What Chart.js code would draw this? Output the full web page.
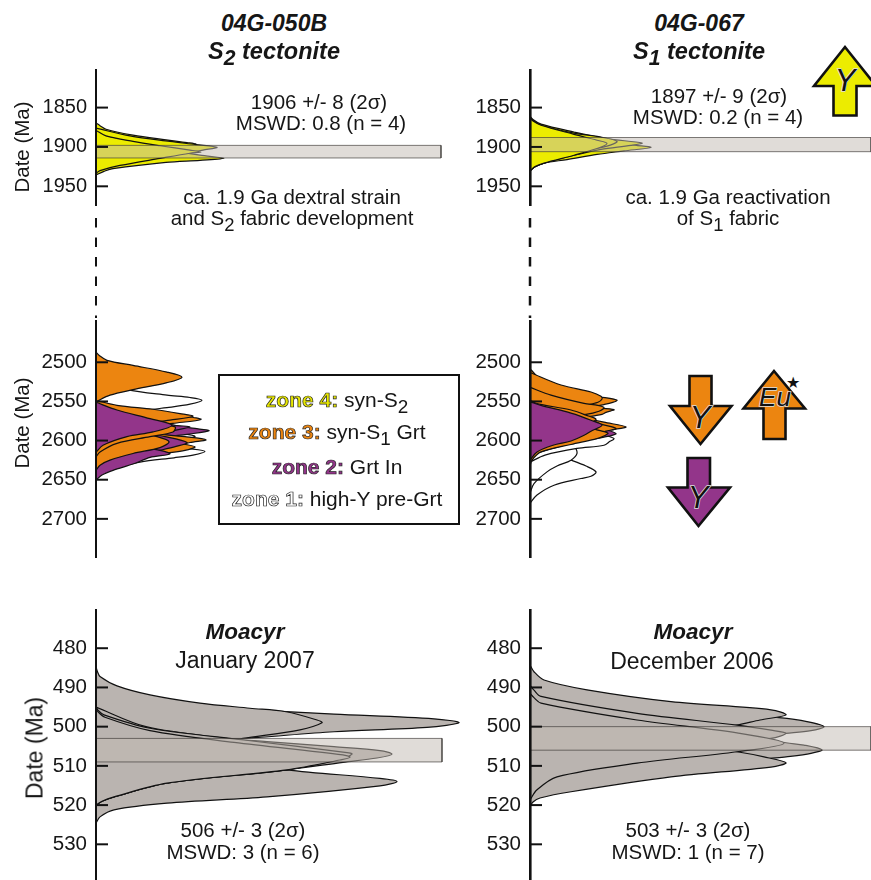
<!DOCTYPE html>
<html>
<head>
<meta charset="utf-8">
<script src="https://cdn.jsdelivr.net/npm/chart.js@4"></script>
<style>
html,body{margin:0;padding:0;background:#fff;}
#page{position:relative;width:871px;height:880px;overflow:hidden;font-family:"Liberation Sans",Arial,sans-serif;color:#161616;}
canvas{position:absolute;}
svg{position:absolute;left:0;top:0;}
.t{position:absolute;transform:translate(-50%,-50%);white-space:nowrap;line-height:1;font-size:20.5px;}
.b{font-weight:bold;font-style:italic;}
.s{font-size:.9em;position:relative;top:.3em;}
.rot{transform:translate(-50%,-50%) rotate(-90deg);}
.z{font-weight:bold;-webkit-text-stroke:.7px #222;}
#box{position:absolute;left:218px;top:374px;width:238px;height:147px;border:2px solid #111;background:#fff;}
</style>
</head>
<body>
<div id="page">
<div id="box"></div>
<svg width="871" height="880">
  <line x1="96" y1="218" x2="96" y2="318" stroke="#111" stroke-width="2" stroke-dasharray="9.5 10"/>
  <line x1="530" y1="218" x2="530" y2="318" stroke="#111" stroke-width="2.5" stroke-dasharray="9.5 10"/>
  <g stroke="#111" stroke-width="2.6" stroke-linejoin="miter">
    <polygon fill="#ecec00" points="845,47 814,86 833.5,86 833.5,115.5 856.5,115.5 856.5,86 876,86"/>
    <polygon fill="#ec8510" points="689.5,376 711.5,376 711.5,406 731.5,406 700.5,444 670,406 689.5,406"/>
    <polygon fill="#ec8510" points="774,371 805,408.5 785.5,408.5 785.5,439 763.5,439 763.5,408.5 743.5,408.5"/>
    <polygon fill="#93358a" points="687.5,458 710,458 710,487.5 730,487.5 698.5,526 668,487.5 687.5,487.5"/>
  </g>
  <g font-style="italic" font-size="31" text-anchor="middle" fill="#111" stroke="#ddd" stroke-width="1.6" paint-order="stroke" font-family="Liberation Sans">
    <text x="845" y="91">Y</text>
    <text x="700" y="428">Y</text>
    <text x="775" y="406" font-size="26">Eu</text>
    <text x="698" y="508">Y</text>
  </g>
  <text x="793" y="388" font-size="16" text-anchor="middle" fill="#111">★</text>
</svg>
<canvas id="topLeft"></canvas>
<canvas id="topRight"></canvas>
<canvas id="midLeft"></canvas>
<canvas id="midRight"></canvas>
<canvas id="botLeft"></canvas>
<canvas id="botRight"></canvas>
</div>
<script>
//tick labels for each row
const topTicks = [1850, 1900, 1950];
const midTicks = [2500, 2550, 2600, 2650, 2700];
const botTicks = [480, 490, 500, 510, 520, 530];

//curves: [date Ma, relative probability]
//04G-050B
const tl1 = [[1869.5,0],[1873,4],[1877.5,10],[1885,37],[1891,70],[1894.5,91],[1896.5,100],[1899,89],[1907,64],[1917,34],[1932,0]];
const tl2 = [[1876,0],[1886,34],[1893,74],[1897,100],[1900.5,121],[1904,107],[1912,74],[1922,34],[1932,0]];
const tl4 = [[1884,0],[1894,34],[1904,74],[1910.5,104],[1914.5,128],[1917,104],[1919.5,70],[1927.5,17],[1931,8],[1935.5,0]];
const tl3 = [[1879,0],[1886,10],[1893,37],[1898.5,64],[1904,94],[1906.5,105],[1908,94],[1914.5,64],[1923.5,24],[1930,4],[1933.5,0]];
const tlBand = [1898, 1914];
const tlBandEnd = 345;

//04G-067
const tr4 = [[1863.5,0],[1873.5,11],[1884,44],[1891.5,81],[1897,101],[1900.5,121],[1905,94],[1909.5,67],[1916,37],[1920.5,14],[1925,5],[1930.5,0]];
const tr3 = [[1861,0],[1865,3],[1871,11],[1881,44],[1889.5,77],[1895,112],[1898,101],[1903,71],[1910.5,44],[1920.5,14],[1925,5],[1929.5,0]];
const tr2 = [[1862,0],[1866,3],[1872.5,11],[1882.5,44],[1887.5,71],[1893,87],[1899,77],[1907,44],[1920.5,14],[1925,5],[1929.5,0]];
const tr1 = [[1863.5,0],[1867,3],[1872.5,11],[1884,44],[1891.5,67],[1895.5,77],[1902,67],[1910.5,44],[1920.5,14],[1925,5],[1930.5,0]];
const trBand = [1888, 1906];
const trBandEnd = 341;

//zones, left column, middle row
const mlW1 = [[2510,0],[2525,10],[2535,31],[2542,71],[2545,94],[2548.5,106],[2553.5,94],[2558,71],[2560,57],[2567.5,14],[2580.5,0]];
const mlW3 = [[2593,0],[2608,69],[2611,97],[2614,109],[2618.5,97],[2622,78],[2627.5,44],[2640.5,0]];
const mlW2 = [[2567.5,0],[2584,54],[2590.5,84],[2594.5,99],[2598.5,89],[2603.5,69],[2612.5,34],[2627.5,0]];
const mlP3 = [[2558.5,0],[2574,54],[2582,84],[2584.5,99],[2587.5,113],[2592,91],[2595.5,69],[2606,29],[2618.5,0]];
const mlP2 = [[2558.5,0],[2574,54],[2580.5,79],[2582.5,94],[2587,79],[2594.5,54],[2612.5,0]];
const mlO3 = [[2551,0],[2557.5,20],[2564,54],[2569,89],[2573,105],[2578,77],[2584,40],[2599.5,0]];
const mlO2 = [[2548.5,0],[2555,21],[2560,57],[2565.5,84],[2569,97],[2574,74],[2580.5,40],[2593,0]];
const mlO6 = [[2580.5,0],[2590.5,54],[2595,89],[2599,110],[2602.5,94],[2608.5,74],[2618.5,34],[2631.5,0]];
const mlO7 = [[2587,0],[2599.5,54],[2604,84],[2608,99],[2612.5,89],[2616.5,69],[2625,29],[2638,0]];
const mlP4 = [[2575,0],[2587,34],[2595,69],[2602.5,91],[2607.5,80],[2612.5,64],[2622.5,29],[2638,0]];
const mlP5 = [[2587,0],[2606,34],[2612.5,64],[2617,74],[2621.5,54],[2630,37],[2638,17],[2644,6],[2650.5,0]];
const mlO5 = [[2574,0],[2587,34],[2595,61],[2601.5,73],[2609,64],[2616.5,37],[2625,14],[2631.5,4],[2638,0]];
const mlO4 = [[2561,0],[2572,35],[2582.5,79],[2589,77],[2595,54],[2603.5,21],[2614.5,4],[2621,0]];
const mlP1 = [[2551,0],[2561,21],[2572,54],[2580.5,76],[2589,57],[2595,31],[2606,7],[2615,0]];
const mlO1 = [[2487,0],[2491,3],[2497.5,11],[2504,37],[2512.5,71],[2519,86],[2526,71],[2535,37],[2542,14],[2550.5,0]];

//zones, right column, middle row
const mrWC = [[2599.5,0],[2618.5,26],[2625,41],[2632.5,56],[2640,66],[2645.5,61],[2648.5,51],[2657,24],[2669.5,7],[2680,0]];
const mrWB = [[2580.5,0],[2597,31],[2607,44],[2616.5,47],[2625,41],[2632.5,27],[2640,17],[2655,4],[2667,0]];
const mrWD = [[2567.5,0],[2587,61],[2593.5,76],[2597.5,84],[2601,80],[2606,74],[2610,47],[2618.5,15],[2627.5,0]];
const mrPB = [[2567.5,0],[2580.5,61],[2584.5,71],[2591,86],[2595.5,74],[2602,46],[2618.5,0]];
const mrOG = [[2555,0],[2571.5,56],[2576.5,74],[2582.5,96],[2586,83],[2590.5,61],[2606,0]];
const mrOH = [[2561,0],[2574,61],[2579,71],[2584.5,86],[2588,76],[2593.5,61],[2606,0]];
const mrOA = [[2508,0],[2516.5,6],[2525,14],[2536.5,41],[2543.5,67],[2548.5,87],[2554,74],[2558.5,54],[2567.5,31],[2587,0]];
const mrOB = [[2513,0],[2529,31],[2538,61],[2543.5,71],[2547,72],[2551,68],[2556.5,51],[2567,20],[2580,0]];
const mrOC = [[2533,0],[2542,11],[2548.5,21],[2553,35],[2557.5,62],[2560.5,84],[2564,76],[2566.5,72],[2570,56],[2580.5,0]];
const mrOD = [[2532,0],[2542,21],[2552.5,54],[2555,68],[2558,74],[2562.5,69],[2566.5,56],[2574,0]];
const mrOE = [[2548.5,0],[2552.5,6],[2561,41],[2567.5,56],[2573,66],[2580.5,51],[2593.5,0]];
const mrOF = [[2567.5,0],[2580.5,51],[2587,69],[2590.5,78],[2593.5,75],[2597.5,67],[2605,41],[2614.5,11],[2625,2],[2632.5,0]];
const mrPA = [[2550.5,0],[2555,11],[2565,41],[2574,61],[2580.5,72],[2588,61],[2592,56],[2600.5,41],[2606,23],[2614.5,7],[2625,0]];

//Moacyr January 2007
const blB = [[488,0],[492,30],[494,60],[495.9,171],[496.8,238],[498,338],[499,363],[500.2,331],[501.3,238],[502.7,165],[503,148],[505,100],[510,40],[515,10],[520,0]];
const blA = [[484.7,0],[486,1.5],[487.2,4],[489.6,21],[491.9,54],[494,104],[495.3,154],[496.2,190],[498.3,221],[499,226],[500.8,204],[503,147],[505,100],[510,40],[515,10],[520,0]];
const blC4 = [[500,0],[506,80],[509,150],[511,191],[513.2,284],[514,301],[515.1,284],[517.9,171],[519.5,71],[521.2,18],[523,4],[524.6,0]];
const blC3 = [[495,0],[500,50],[503,130],[503.8,171],[505.1,238],[506.1,284],[507,296],[508,281],[509.1,247],[511,191],[514.4,71],[517.9,18],[519,6],[520,0]];
const blC1 = [[494.9,0],[495.8,2],[497,8],[500.4,54],[503.4,148],[506.6,251],[507,256],[508.3,244],[511,191],[514.4,71],[517.9,18],[519,6],[520,0]];
const blC2 = [[495.3,0],[496.2,2],[497.6,9],[501,54],[504,138],[507.2,247],[507.8,254],[508.5,244],[511,191],[514.4,71],[517.9,18],[519,6],[520,0]];
const blBand = [503, 509];
const blBandEnd = 346;

//Moacyr December 2006
const brF2 = [[488,0],[492,60],[495,130],[497.7,249],[498.7,277],[500,294],[501,281],[501.7,256],[503,207],[506,130],[510,40],[518,0]];
const brF5 = [[490,0],[496,60],[501,190],[504.1,256],[504.7,274],[505.9,292],[506.8,281],[507.7,256],[508.3,234],[510,190],[513,80],[517,10],[520,0]];
const brF6 = [[496,0],[500,60],[504,140],[506.4,207],[507.7,234],[509.2,256],[510.3,241],[512.8,141],[516.6,41],[518.2,10],[519.2,3],[520.4,0]];
const brF1 = [[484.3,0],[486,4],[488.1,14],[490.6,57],[493.6,141],[495.7,241],[497,256],[498.3,230],[499.6,207],[503,130],[510,30],[518,0]];
const brF3 = [[489.4,0],[490.7,4],[492.3,11],[496.6,107],[499.6,207],[500.9,241],[501.7,256],[503,241],[504.7,170],[510,50],[516,0]];
const brF4 = [[491.5,0],[492.6,4],[494,11],[498.3,107],[501.6,207],[504.2,254],[506.4,207],[509.3,107],[512.8,27],[516.1,7],[518.7,0]];
const brBand = [500, 506];
const brBandEnd = 341;

const yellow = '#ecec00', orange = '#ec8510', purple = '#93358a', white = '#ffffff', grey = '#bab4b0';

function curve(points, color) {
  return {
    data: points.map(p => ({ x: p[1], y: p[0] })),
    showLine: true,
    fill: 'shape',
    backgroundColor: color,
    borderColor: '#111',
    borderWidth: 1.2,
    tension: 0.32,
    pointRadius: 0
  };
}

function band(dates, end) {
  const d = [[dates[0],0],[dates[0],end],[dates[1],end],[dates[1],0],[dates[0],0]];
  return {
    data: d.map(p => ({ x: p[1], y: p[0] })),
    showLine: true,
    fill: 'shape',
    backgroundColor: 'rgba(193,185,177,0.5)',
    borderColor: 'rgba(60,56,52,0.65)',
    borderWidth: 1,
    tension: 0,
    pointRadius: 0
  };
}

//tick marks point into the plot here
const inwardTicks = {
  id: 'inwardTicks',
  afterDraw(chart) {
    const ctx = chart.ctx;
    const s = chart.scales.y;
    ctx.save();
    ctx.strokeStyle = '#111';
    ctx.lineWidth = 2;
    s.ticks.forEach(t => {
      const y = s.getPixelForValue(t.value);
      ctx.beginPath();
      ctx.moveTo(s.right, y);
      ctx.lineTo(s.right + 12, y);
      ctx.stroke();
    });
    ctx.restore();
  }
};

//back to front, chart.js paints the first dataset last
function panel(id, left, top, width, height, ticks, yMin, yMax, sets, opts) {
  const el = document.getElementById(id);
  el.width = width; el.height = height;
  el.style.left = left + 'px'; el.style.top = top + 'px';
  new Chart(el, {
    type: 'scatter',
    data: { datasets: sets.slice().reverse() },
    plugins: [inwardTicks],
    options: {
      responsive: false,
      animation: false,
      devicePixelRatio: 1,
      layout: { padding: 0 },
      plugins: { legend: { display: false }, tooltip: { enabled: false } },
      scales: {
        x: { display: false, min: 0, max: width - 90 },
        y: {
          reverse: true,
          min: yMin,
          max: yMax,
          afterFit: s => { s.width = 90; s.paddingTop = 0; s.paddingBottom = 0; },
          afterBuildTicks: s => { s.ticks = ticks.map(v => ({ value: v })); },
          border: { color: '#111', width: opts.axis, z: 2 },
          grid: { drawOnChartArea: false, drawTicks: false },
          ticks: { padding: 9, color: '#161616', font: { family: 'Liberation Sans', size: opts.size }, callback: v => String(v) }
        }
      }
    }
  });
}

panel('topLeft', 6, 69, 436, 137, topTicks, 1801, 1975,
  [curve(tl1,yellow),curve(tl2,yellow),curve(tl4,yellow),curve(tl3,yellow),band(tlBand,tlBandEnd)], {axis:2,size:20});
panel('topRight', 440, 69, 431, 137, topTicks, 1801, 1975,
  [curve(tr4,yellow),curve(tr3,yellow),curve(tr2,yellow),curve(tr1,yellow),band(trBand,trBandEnd)], {axis:2.6,size:20.5});
panel('midLeft', 6, 320, 436, 238, midTicks, 2446, 2750,
  [curve(mlW1,white),curve(mlW3,white),curve(mlW2,white),curve(mlP3,purple),curve(mlP2,purple),curve(mlO3,orange),curve(mlO2,orange),curve(mlO6,orange),curve(mlO7,orange),curve(mlP4,purple),curve(mlP5,purple),curve(mlO5,orange),curve(mlO4,orange),curve(mlP1,purple),curve(mlO1,orange)], {axis:2,size:20.5});
panel('midRight', 440, 320, 431, 238, midTicks, 2446, 2750,
  [curve(mrWC,white),curve(mrWB,white),curve(mrWD,white),curve(mrPB,purple),curve(mrOG,orange),curve(mrOH,orange),curve(mrOA,orange),curve(mrOB,orange),curve(mrOC,orange),curve(mrOD,orange),curve(mrOE,orange),curve(mrOF,orange),curve(mrPA,purple)], {axis:2.6,size:20.5});
panel('botLeft', 6, 609, 460, 271, botTicks, 470, 539.1,
  [curve(blB,grey),curve(blA,grey),curve(blC4,grey),curve(blC3,grey),curve(blC1,grey),curve(blC2,grey),band(blBand,blBandEnd)], {axis:2,size:20.5});
panel('botRight', 440, 609, 431, 271, botTicks, 470, 539.1,
  [curve(brF2,grey),curve(brF5,grey),curve(brF6,grey),curve(brF1,grey),curve(brF3,grey),curve(brF4,grey),band(brBand,brBandEnd)], {axis:2.6,size:20.5});

//text on top of the charts
const texts = [
  ['04G-050B',274,23,'b',23],['S<span class="s">2</span> tectonite',274,52,'b',23.5],
  ['04G-067',699,23,'b',23],['S<span class="s">1</span> tectonite',699,52,'b',23.5],
  ['1906 +/- 8 (2σ)',319,102],['MSWD: 0.8 (n = 4)',321,123],
  ['ca. 1.9 Ga dextral strain',292,197],['and S<span class="s">2</span> fabric development',292,218],
  ['1897 +/- 9 (2σ)',719,96],['MSWD: 0.2 (n = 4)',718,117],
  ['ca. 1.9 Ga reactivation',728,197],['of S<span class="s">1</span> fabric',728,218],
  ['Date (Ma)',22,147,'rot',20.5],['Date (Ma)',22,423,'rot',20.5],['Date (Ma)',35,748,'rot',23],
  ['<span class="z" style="color:#e8e800">zone 4:</span> syn-S<span class="s">2</span>',337,400,'',21],
  ['<span class="z" style="color:#ec8510">zone 3:</span> syn-S<span class="s">1</span> Grt',337,432,'',21],
  ['<span class="z" style="color:#93358a">zone 2:</span> Grt In',337,466,'',21],
  ['<span class="z" style="color:#fff">zone 1:</span> high-Y pre-Grt',337,498,'',21],
  ['Moacyr',245,632,'b',22.5],['January 2007',245,660,'',23],
  ['506 +/- 3 (2σ)',243,830],['MSWD: 3 (n = 6)',243,852],
  ['Moacyr',693,632,'b',22.5],['December 2006',692,661,'',23],
  ['503 +/- 3 (2σ)',688,830],['MSWD: 1 (n = 7)',688,852]
];
const page = document.getElementById('page');
texts.forEach(t => {
  const d = document.createElement('div');
  d.className = 't ' + (t[3] || '');
  d.innerHTML = t[0];
  d.style.left = t[1] + 'px';
  d.style.top = t[2] + 'px';
  if (t[4]) d.style.fontSize = t[4] + 'px';
  page.appendChild(d);
});
</script>
</body>
</html>
